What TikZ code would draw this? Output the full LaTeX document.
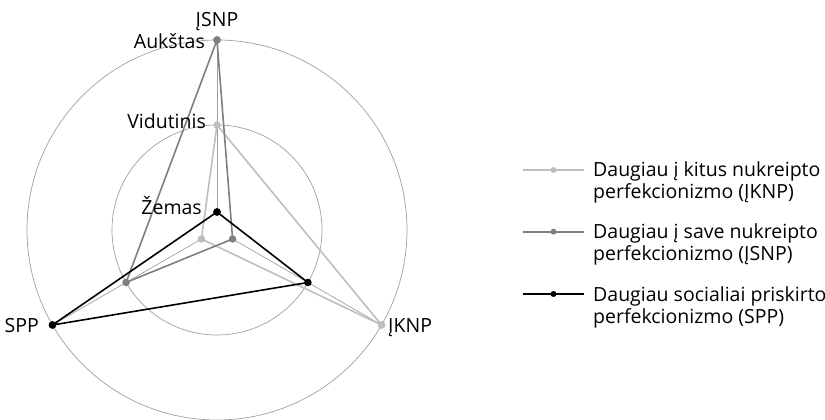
\documentclass[tikz,border=0pt]{standalone}
\usepackage{fontspec}
\setmainfont{Open Sans}
\usetikzlibrary{calc}
\definecolor{lgray}{HTML}{BEBEBE}
\definecolor{dgray}{HTML}{7F7F7F}
\definecolor{ringc}{HTML}{A0A0A0}
\begin{document}
\begin{tikzpicture}[x=1pt,y=1pt,
  lbl/.style={font=\fontsize{19.5}{22}\selectfont, inner sep=0pt, text=black},
  ring/.style={draw=ringc, line width=0.7pt},
  axisline/.style={draw=ringc, line width=0.7pt},
  series/.style={line width=1.6pt, line join=round},
  mark/.style={circle, fill=#1, inner sep=0pt, minimum size=7.5pt},
  legmark/.style={circle, fill=#1, inner sep=0pt, minimum size=6pt},
  legline/.style={line width=1.8pt}]
\useasboundingbox (0,0) rectangle (825,420);
\coordinate (C) at (217,190);
% rings
\draw[ring] (C) circle (105pt);
\draw[ring] (C) circle (190pt);
% axis points
\foreach \ang/\nm in {90/t,-30/r,210/l}{
  \coordinate (\nm0) at ($(C)+(\ang:18pt)$);
  \coordinate (\nm1) at ($(C)+(\ang:105pt)$);
  \coordinate (\nm2) at ($(C)+(\ang:190pt)$);
}
\draw[axisline] (t0) -- (t2);
\draw[axisline] (r0) -- (r2);
\draw[axisline] (l0) -- (l2);
% IKNP series (light gray)
\node[mark=lgray] (k1) at (t1) {};
\node[mark=lgray] (k2) at (r2) {};
\node[mark=lgray] (k3) at (l0) {};
\draw[series, lgray] (k1.center) -- (k2.center) -- (k3.center) -- cycle;
% JSNP series (dark gray)
\node[mark=dgray] (s1) at (t2) {};
\node[mark=dgray] (s2) at (r0) {};
\node[mark=dgray] (s3) at (l1) {};
\draw[series, dgray] (s1.center) -- (s2.center) -- (s3.center) -- cycle;
% SPP series (black)
\node[mark=black] (p1) at (t0) {};
\node[mark=black] (p2) at (r1) {};
\node[mark=black] (p3) at (l2) {};
\draw[series, black] (p1.center) -- (p2.center) -- (p3.center) -- cycle;
% redraw markers on top
\node[mark=lgray] at (k2) {};
\node[mark=dgray] at (s1) {};
\node[mark=black] at (p1) {};
\node[mark=black] at (p3) {};
% axis labels
\node[lbl, anchor=base] (lisnp) at (217,393) {ĮSNP};
\node[lbl, anchor=base east] (lhi) at (205,371.5) {Aukštas};
\node[lbl, anchor=base east] (lmid) at (206,291) {Vidutinis};
\node[lbl, anchor=base east] (llow) at (202,205) {Žemas};
\node[lbl, anchor=base east] (lspp) at (39,87.5) {SPP};
\node[lbl, anchor=base west] (liknp) at (388,87.5) {ĮKNP};
% legend
\coordinate (g1a) at (523,250); \coordinate (g1b) at (584,250);
\draw[legline, lgray] (g1a) -- (g1b);
\node[legmark=lgray] (g1m) at ($(g1a)!0.5!(g1b)$) {};
\node[lbl, anchor=base west] (g1t) at (593,243) {Daugiau į kitus nukreipto};
\node[lbl, anchor=base west] (g1u) at (593,221.5) {perfekcionizmo (ĮKNP)};
\coordinate (g2a) at (523,188.3); \coordinate (g2b) at (584,188.3);
\draw[legline, dgray] (g2a) -- (g2b);
\node[legmark=dgray] (g2m) at ($(g2a)!0.5!(g2b)$) {};
\node[lbl, anchor=base west] (g2t) at (593,181) {Daugiau į save nukreipto};
\node[lbl, anchor=base west] (g2u) at (593,159.5) {perfekcionizmo (ĮSNP)};
\coordinate (g3a) at (523,126); \coordinate (g3b) at (584,126);
\draw[legline, black] (g3a) -- (g3b);
\node[legmark=black] (g3m) at ($(g3a)!0.5!(g3b)$) {};
\node[lbl, anchor=base west] (g3t) at (593,118.3) {Daugiau socialiai priskirto};
\node[lbl, anchor=base west] (g3u) at (593,96.7) {perfekcionizmo (SPP)};
\end{tikzpicture}
\end{document}
